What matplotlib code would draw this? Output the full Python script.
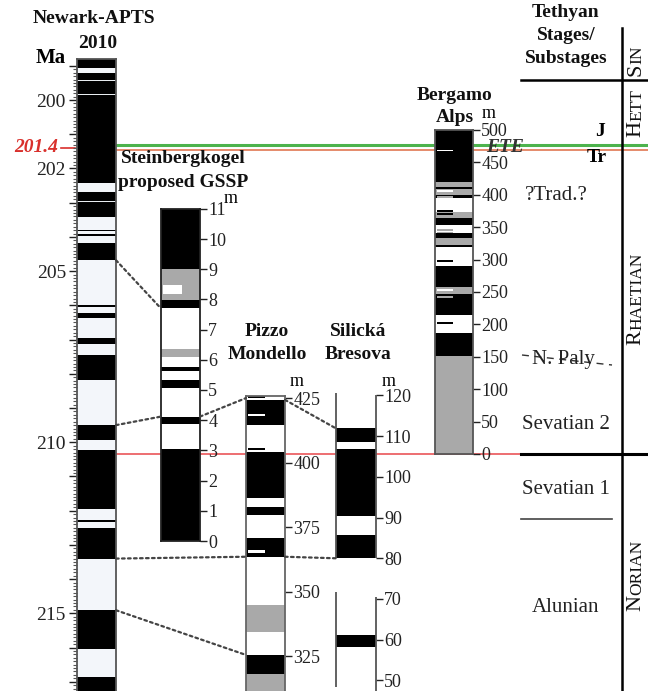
import matplotlib.pyplot as plt
from matplotlib import transforms
from matplotlib.patches import ConnectionPatch

plt.rcParams['font.family'] = ['Liberation Serif', 'DejaVu Serif']

W, H = 648, 691

# Newark-APTS 2010 (Ma) - normal polarity intervals, rest reversed
newark_range = (217.27, 198.80)
newark_normal = [(198.80, 199.07), (199.22, 202.42), (202.68, 203.41), (203.79, 203.83),
                 (203.92, 203.96), (204.19, 204.68), (205.99, 206.04), (206.23, 206.37),
                 (206.96, 207.12), (207.46, 208.19), (209.50, 209.94), (210.23, 211.94),
                 (212.28, 212.33), (212.52, 213.40), (214.91, 216.03), (216.86, 217.30)]
newark_thin_rev = [199.42, 199.83, 202.97]
newark_labels = [200, 202, 205, 210, 215]
ete_age = 201.4
nor_rhae_age = 210.35

# Steinbergkogel (m)
stein_range = (0, 11)
stein_normal = [(0, 3.04), (3.87, 4.12), (5.06, 5.33), (5.64, 5.75), (7.70, 7.98), (9.0, 11.0)]
stein_grey = [(6.10, 6.36), (7.98, 9.0)]
stein_rev_patch = (8.18, 8.48)

# Pizzo Mondello (m)
pizzo_range = (311.65, 425.8)
pizzo_normal = [(318.2, 325.6), (363.6, 371.0), (379.8, 383.0), (386.2, 404.3), (414.6, 424.3)]
pizzo_grey = [(311.6, 318.2), (334.6, 344.9)]
pizzo_half_normal = [425.3, 405.4]
pizzo_half_rev = [418.5, 365.6]
pizzo_ticks = [325, 350, 375, 400, 425]

# Silicka Bresova (m)
silicka_range = (47.4, 120.6)
silicka_left = [(80, 120.6), (48.5, 71.8)]
silicka_right = [(80, 120), (47.4, 70.6)]
silicka_normal = [(80, 85.7), (90.5, 106.9), (108.6, 111.9), (58.3, 61.2)]
silicka_ticks = [50, 60, 70, 80, 90, 100, 110, 120]

# Bergamo Alps (m)
bergamo_range = (0, 500)
bergamo_normal = [(152, 187.2), (214.5, 247), (257.3, 290), (319, 322.5), (334, 341.5),
                  (353.4, 363.7), (394.6, 399.7), (408.5, 412.5), (420, 500)]
bergamo_grey = [(0, 152), (247, 257.3), (322.5, 334), (363.7, 374), (399.7, 408.5), (412.5, 420)]
bergamo_half_rev = [468.5, 406, 253]
bergamo_half_normal = [375.5, 370, 298, 201.7]
bergamo_half_grey = [397, 346, 342, 242]

GREY = '#a9a9a9'

fig = plt.figure(figsize=(6.48, 6.91), dpi=100)

bg = fig.add_axes([0, 0, 1, 1])
bg.set_xlim(0, W)
bg.set_ylim(H, 0)
bg.axis('off')


def column(x0, x1, y0, y1, ylim):
    ax = fig.add_axes([x0 / W, 1 - y1 / H, (x1 - x0) / W, (y1 - y0) / H])
    ax.patch.set_visible(False)
    ax.set_xlim(0, 1)
    ax.set_ylim(*ylim)
    ax.set_xticks([])
    ax.tick_params(axis='y', direction='out', length=5, width=1, pad=1,
                   labelsize=13, colors='#222')
    return ax


def bands(ax, spans, color):
    for a, b in spans:
        ax.axhspan(a, b, color=color, lw=0)


def half_bars(ax, vals, color, d):
    for v in vals:
        ax.axhspan(v - d, v + d, xmin=0.04, xmax=0.48, color=color, lw=0)


# ---- Newark ----
nw = column(77, 116, 59, 691, newark_range)
nw.axhspan(*newark_range, color='#f3f6fa', lw=0)
bands(nw, newark_normal, 'black')
for v in newark_thin_rev:
    nw.axhspan(v - 0.02, v + 0.02, color='#e8ecf0', lw=0)
nw.set_yticks(range(199, 218))
nw.set_yticklabels([str(t) if t in newark_labels else '' for t in range(199, 218)])
nw.set_yticks([199 + i / 10 for i in range(183)], minor=True)
nw.tick_params(axis='y', which='major', length=6, labelsize=14, pad=2)
nw.tick_params(axis='y', which='minor', length=3, width=0.8, colors='#555')
for s in nw.spines.values():
    s.set_color('#555')
    s.set_linewidth(1.3)
nw.spines['bottom'].set_visible(False)

# ---- Steinbergkogel ----
st = column(161, 200, 208.8, 541, stein_range)
st.axhspan(*stein_range, color='white', lw=0)
bands(st, stein_normal, 'black')
bands(st, stein_grey, GREY)
st.axhspan(*stein_rev_patch, xmin=0.05, xmax=0.55, color='white', lw=0)
st.yaxis.tick_right()
st.set_yticks(range(0, 12))
for s in st.spines.values():
    s.set_color('#222')
    s.set_linewidth(1.3)

# ---- Pizzo Mondello ----
pz = column(246, 285, 396, 691, pizzo_range)
pz.axhspan(*pizzo_range, color='white', lw=0)
bands(pz, pizzo_normal, 'black')
bands(pz, pizzo_grey, GREY)
half_bars(pz, pizzo_half_normal, 'black', 0.45)
half_bars(pz, pizzo_half_rev, 'white', 0.45)
pz.yaxis.tick_right()
pz.set_yticks(pizzo_ticks)
for s in pz.spines.values():
    s.set_color('#666')
    s.set_linewidth(1.3)
pz.spines['bottom'].set_visible(False)

# ---- Silicka Bresova ----
sb = column(336, 376, 393, 691, silicka_range)
bands(sb, silicka_normal, 'black')
for a, b in silicka_left:
    sb.vlines(0, a, b, color='#555', lw=1.3, clip_on=False)
for a, b in silicka_right:
    sb.vlines(1, a, b, color='#555', lw=1.3, clip_on=False)
for s in sb.spines.values():
    s.set_visible(False)
sb.yaxis.tick_right()
sb.set_yticks(silicka_ticks)

# ---- Bergamo Alps ----
bg_ax = column(435, 473, 130, 454, bergamo_range)
bg_ax.axhspan(*bergamo_range, color='white', lw=0)
bands(bg_ax, bergamo_normal, 'black')
bands(bg_ax, bergamo_grey, GREY)
half_bars(bg_ax, bergamo_half_rev, 'white', 1.3)
half_bars(bg_ax, bergamo_half_normal, 'black', 1.3)
half_bars(bg_ax, bergamo_half_grey, GREY, 1.3)
bg_ax.yaxis.tick_right()
bg_ax.set_yticks(range(0, 501, 50))
for s in bg_ax.spines.values():
    s.set_color('#555')
    s.set_linewidth(1.3)

# ---- horizontal time lines (Newark age scale) ----
ma = transforms.blended_transform_factory(bg.transData, nw.transData)
up = transforms.ScaledTranslation(0, 2 / 72, fig.dpi_scale_trans)
dn = transforms.ScaledTranslation(0, -1.5 / 72, fig.dpi_scale_trans)
bg.plot([116, W], [ete_age, ete_age], color='#e58a6a', lw=1.4, transform=ma + dn)
bg.plot([116, W], [ete_age, ete_age], color='#4db34d', lw=2.2, transform=ma + up)
bg.plot([116, 521], [nor_rhae_age, nor_rhae_age], color='#e8474a', lw=1.1, transform=ma)
bg.plot([521, W], [nor_rhae_age, nor_rhae_age], color='black', lw=2.2, transform=ma)
bg.text(58, ete_age, '201.4', color='#d9302c', fontsize=14, fontweight='bold',
        fontstyle='italic', ha='right', va='center', transform=ma)
bg.plot([61, 75], [ete_age, ete_age], color='#d9302c', lw=1.2, transform=ma)
bg.text(505, ete_age, 'ETE', fontsize=14, fontweight='bold', fontstyle='italic',
        color='#333', ha='center', va='center', transform=ma, zorder=5)

# ---- tie lines ----
ties = [(nw, 204.68, st, 7.70), (nw, 209.50, st, 4.12), (st, 4.12, pz, 425.0),
        (pz, 424.3, sb, 111.9), (nw, 213.40, pz, 363.6), (pz, 363.6, sb, 80.0),
        (nw, 214.91, pz, 325.6), (pz, 287.7, sb, 61.2)]
for axA, va, axB, vb in ties:
    con = ConnectionPatch(xyA=(1, va), coordsA='data', axesA=axA,
                          xyB=(0, vb), coordsB='data', axesB=axB,
                          color='#444', lw=1.6, ls=(0, (1.2, 1.5)))
    fig.add_artist(con)

# ---- titles ----
bold = dict(fontsize=14, fontweight='bold', ha='center', va='center', color='#111')
bg.text(94, 18, 'Newark-APTS', **bold)
bg.text(98, 43, '2010', **bold)
bg.text(51, 58, 'Ma', fontsize=15, fontweight='bold', ha='center', va='center')
bg.text(183, 158, 'Steinbergkogel', **bold)
bg.text(183, 182, 'proposed GSSP', **bold)
bg.text(267, 331, 'Pizzo', **bold)
bg.text(267, 354, 'Mondello', **bold)
bg.text(358, 331, 'Silická', **bold)
bg.text(358, 354, 'Bresova', **bold)
bg.text(455, 95, 'Bergamo', **bold)
bg.text(455, 117, 'Alps', **bold)
for x, y in [(231, 198), (297, 381), (389, 381), (489, 113)]:
    bg.text(x, y, 'm', fontsize=13, ha='center', va='center')

# ---- stage column ----
bg.text(566, 12, 'Tethyan', **bold)
bg.text(566, 35, 'Stages/', **bold)
bg.text(566, 58, 'Substages', **bold)
bg.plot([521, W], [80, 80], color='black', lw=1.8)
bg.plot([622, 622], [28, H], color='black', lw=1.8)
bg.plot([521, 612], [519, 519], color='#444', lw=1.2)
bg.text(600, 131, 'J', fontsize=14, fontweight='bold', ha='center', va='center')
bg.text(597, 157, 'Tr', fontsize=14, fontweight='bold', ha='center', va='center')
reg = dict(fontsize=15, ha='center', va='center', color='#222')
bg.text(556, 195, '?Trad.?', **reg)
bg.text(563, 359, 'N. Paly', **reg)
bg.plot([522, 612], [355, 365], color='#333', lw=1, ls=(0, (5, 4)))
bg.text(566, 424, 'Sevatian 2', **reg)
bg.text(566, 489, 'Sevatian 1', **reg)
bg.text(566, 608, 'Alunian', **reg)


def smallcaps(y_bottom, word):
    t = bg.text(645, y_bottom, word[0], rotation=90, fontsize=16,
                ha='right', va='bottom', color='#111')
    bg.annotate(word[1:], xy=(1, 1), xycoords=t, rotation=90, fontsize=12.5,
                ha='right', va='bottom', color='#111')


smallcaps(76, 'SIN')
smallcaps(137, 'HETT')
smallcaps(345, 'RHAETIAN')
smallcaps(611, 'NORIAN')

fig.savefig('out.png', dpi=100)
